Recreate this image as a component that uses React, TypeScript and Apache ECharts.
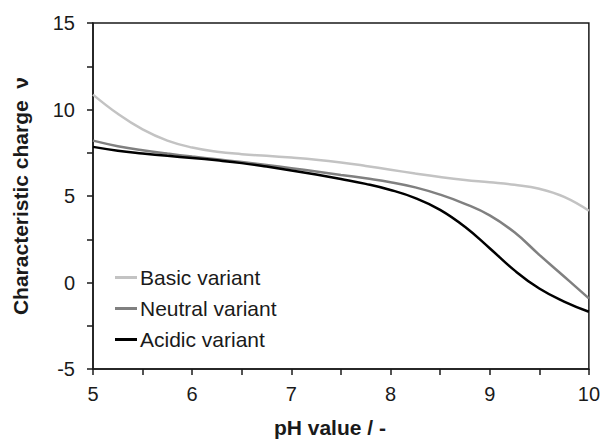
import React, { useEffect, useRef } from "react";
import * as echarts from "echarts";

const phValues = [5, 5.25, 5.5, 5.75, 6, 6.25, 6.5, 6.75, 7, 7.25, 7.5, 7.75, 8, 8.25, 8.5, 8.75, 9, 9.25, 9.5, 9.75, 10];
const basicVariant = [10.86, 9.75, 8.85, 8.2, 7.8, 7.56, 7.42, 7.32, 7.22, 7.1, 6.94, 6.74, 6.52, 6.3, 6.1, 5.93, 5.8, 5.65, 5.42, 4.95, 4.15];
const neutralVariant = [8.2, 7.88, 7.64, 7.45, 7.28, 7.12, 6.96, 6.79, 6.61, 6.42, 6.22, 6.02, 5.8, 5.5, 5.08, 4.55, 3.88, 2.9, 1.6, 0.35, -0.92];
const acidicVariant = [7.84, 7.62, 7.46, 7.32, 7.2, 7.06, 6.9, 6.7, 6.48, 6.24, 5.98, 5.7, 5.35, 4.88, 4.2, 3.22, 1.98, 0.7, -0.35, -1.1, -1.69];
const seriesNames = ["Basic variant", "Neutral variant", "Acidic variant"];
const seriesColors = ["#c3c3c3", "#808080", "#000000"];

const FONT = "'Liberation Sans', Arial, sans-serif";

export default function App() {
  const ref = useRef<HTMLDivElement>(null);
  useEffect(() => {
    if (!ref.current) return;
    const chart = echarts.init(ref.current, undefined, { renderer: "svg" });
    const datasets = [basicVariant, neutralVariant, acidicVariant];
    const tickStyle = { color: "#1a1a1a", width: 1.5 };
    chart.setOption({
      animation: false,
      backgroundColor: "#ffffff",
      textStyle: { fontFamily: FONT },
      grid: {
        left: 93,
        right: 13,
        top: 23,
        bottom: 70,
        show: true,
        borderColor: "#1a1a1a",
        borderWidth: 1.5,
        backgroundColor: "transparent",
      },
      legend: {
        left: 115,
        top: 267,
        padding: 0,
        orient: "vertical",
        itemGap: 10,
        itemWidth: 22,
        itemHeight: 3,
        icon: "rect",
        data: seriesNames,
        textStyle: { fontFamily: FONT, fontSize: 21, color: "#1a1a1a", padding: [0, 0, 0, -2] },
      },
      xAxis: {
        type: "value",
        min: 5,
        max: 10,
        interval: 1,
        name: "pH value / -",
        nameLocation: "middle",
        nameGap: 48,
        nameTextStyle: { fontFamily: FONT, fontSize: 21, fontWeight: "bold", color: "#1a1a1a", padding: [0, 22, 0, 0] },
        axisLine: { onZero: false, lineStyle: tickStyle },
        axisTick: { show: true, inside: false, length: 6, lineStyle: tickStyle },
        minorTick: { show: true, splitNumber: 2, length: 6, lineStyle: tickStyle },
        axisLabel: { fontFamily: FONT, fontSize: 20, color: "#1a1a1a", margin: 15 },
        splitLine: { show: false },
        minorSplitLine: { show: false },
      },
      yAxis: {
        type: "value",
        min: -5,
        max: 15,
        interval: 5,
        name: "Characteristic charge  ν",
        nameLocation: "middle",
        nameGap: 62,
        nameTextStyle: { fontFamily: FONT, fontSize: 21, fontWeight: "bold", color: "#1a1a1a" },
        axisLine: { onZero: false, lineStyle: tickStyle },
        axisTick: { show: true, inside: false, length: 6, lineStyle: tickStyle },
        minorTick: { show: true, splitNumber: 2, length: 6, lineStyle: tickStyle },
        axisLabel: { fontFamily: FONT, fontSize: 20, color: "#1a1a1a", margin: 18 },
        splitLine: { show: false },
        minorSplitLine: { show: false },
      },
      series: datasets.map((vals, i) => ({
        name: seriesNames[i],
        type: "line",
        smooth: 0.45,
        symbol: "none",
        lineStyle: { color: seriesColors[i], width: 2.5 },
        itemStyle: { color: seriesColors[i] },
        data: phValues.map((x, j) => [x, vals[j]]),
        z: 3 + i,
      })),
    });
    return () => chart.dispose();
  }, []);
  return <div ref={ref} style={{ width: 603, height: 443, position: "absolute", left: 0, top: 0 }} />;
}
